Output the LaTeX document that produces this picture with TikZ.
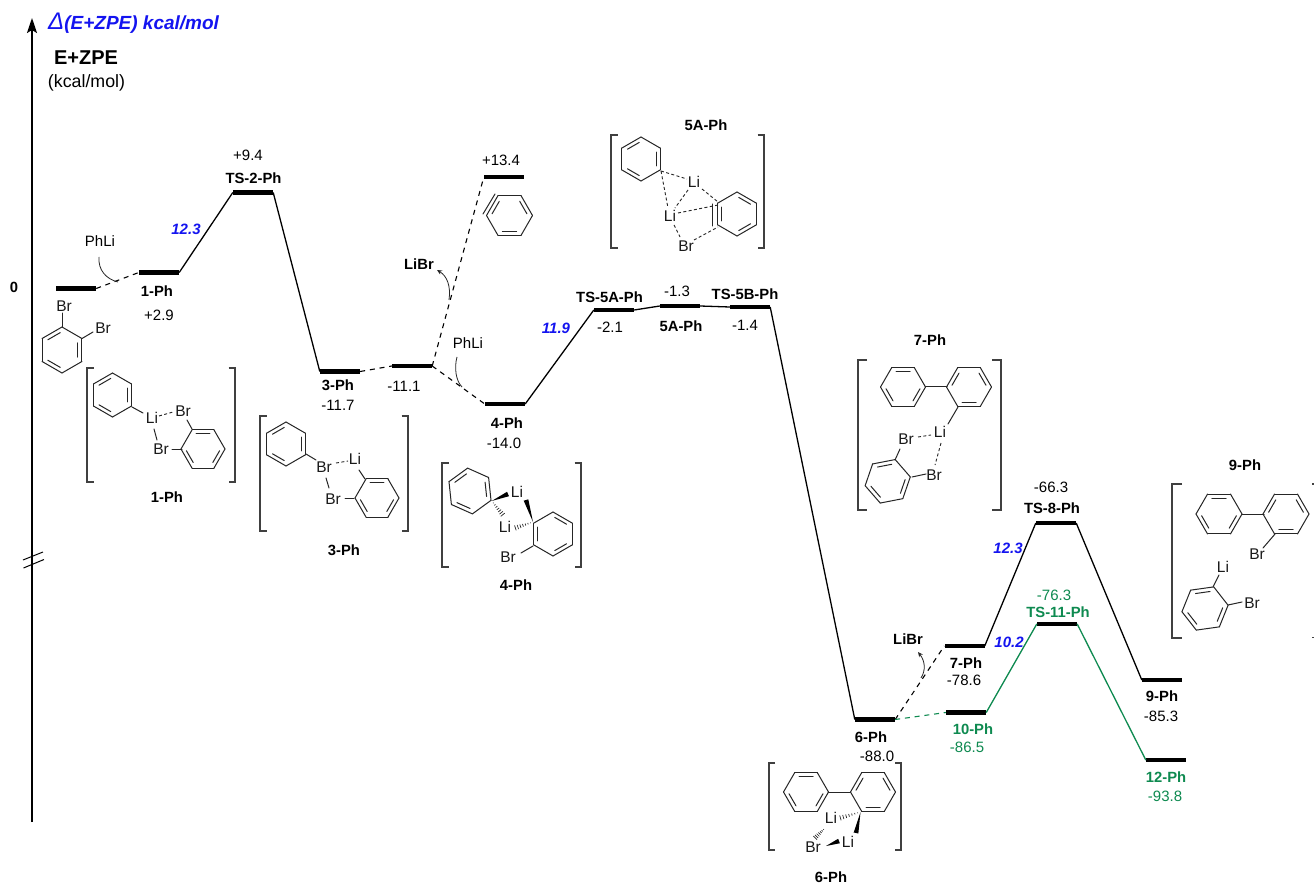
\documentclass[tikz,border=0pt]{standalone}
\usepackage{fontspec}
\setmainfont{Liberation Sans}
\usetikzlibrary{arrows.meta,calc}
\definecolor{tsgreen}{HTML}{0E8A50}
\definecolor{ebblue}{HTML}{1414F0}
\definecolor{brkcol}{HTML}{404040}
\tikzset{
  lev/.style={fill=black,draw=none,inner sep=0pt,minimum width=40pt,minimum height=4.4pt},
  conn/.style={line width=1.3pt,black},
  dconn/.style={line width=1.1pt,black,dash pattern=on 5pt off 4.8pt},
  gconn/.style={line width=1.3pt,tsgreen},
  gdconn/.style={line width=1.1pt,tsgreen,dash pattern=on 5pt off 4.8pt},
  bond/.style={line width=1pt,line cap=round,black!85},
  dbond/.style={line width=0.9pt,black!85,dash pattern=on 3pt off 2.4pt},
  brack/.style={line width=1.1pt,brkcol},
  curv/.style={line width=0.8pt,black!85},
  curva/.style={curv,-{Stealth[length=5pt,width=4.5pt]}},
  val/.style={inner sep=0pt,font=\fontsize{15}{15}\selectfont},
  nameb/.style={inner sep=0pt,font=\fontsize{14.8}{15}\selectfont\bfseries},
  atom/.style={inner sep=0pt,font=\fontsize{15.5}{15}\selectfont,text=black!90},
  barr/.style={inner sep=0pt,font=\fontsize{15}{15}\selectfont\bfseries\itshape,text=ebblue},
  gval/.style={val,text=tsgreen},
  gnameb/.style={nameb,text=tsgreen},
}
\newcommand\lbl[4]{\node[#1] (#2) at (#3) {#4};}
% ring: cx cy r rot(deg, y-down) list of edge start angles for inner lines
\newcommand\ring[5]{%
  \begin{scope}[shift={(#1,#2)}]
    \foreach \a in {0,60,...,300}{
      \draw[bond] ({#3*cos(\a+#4)},{#3*sin(\a+#4)}) -- ({#3*cos(\a+60+#4)},{#3*sin(\a+60+#4)});}
    \foreach \a in {#5}{
      \draw[bond,shorten >=2pt,shorten <=2pt] ({.8*#3*cos(\a)},{.8*#3*sin(\a)}) -- ({.8*#3*cos(\a+60)},{.8*#3*sin(\a+60)});}
  \end{scope}}
% brackets: xleft xright top bottom hook
\newcommand\brk[5]{%
  \draw[brack] (#1+#5,#3) -- (#1,#3) -- (#1,#4) -- (#1+#5,#4);
  \draw[brack] (#2-#5,#3) -- (#2,#3) -- (#2,#4) -- (#2-#5,#4);}
\newcommand\bwed[2]{%
  \fill[black] (#1) -- ($(#2)!2.4pt!90:(#1)$) -- ($(#2)!2.4pt!-90:(#1)$) -- cycle;}
\newcommand\hwed[2]{%
  \foreach \t in {0.14,0.28,...,1.01}{
    \pgfmathsetmacro\w{2.6*\t}
    \draw[line width=0.7pt,black!85] ($($(#1)!\t!(#2)$)!\w pt!90:(#2)$) -- ($($(#1)!\t!(#2)$)!\w pt!-90:(#2)$);}}
\begin{document}
\begin{tikzpicture}[x=1pt,y=-1pt]
\useasboundingbox (0,0) rectangle (1314,885);
\fill[white] (0,0) rectangle (1314,885);

% axis
\coordinate (axb) at (32,822);
\coordinate (axt) at (32,18);
\draw[line width=2pt,-{Stealth[length=15pt,width=10pt,inset=3pt]}] (axb) -- (axt);
\coordinate (s1a) at (23,560); \coordinate (s1b) at (43,552);
\coordinate (s2a) at (23.5,568); \coordinate (s2b) at (44,559.5);
\draw[line width=1pt] (s1a) -- (s1b);
\draw[line width=1pt] (s2a) -- (s2b);

\node[inner sep=0pt,anchor=west,text=ebblue] (ttl) at (48,23) {\fontsize{24}{24}\selectfont\itshape Δ\fontsize{19}{20}\selectfont\bfseries(E+ZPE) kcal/mol};
\node[inner sep=0pt,font=\fontsize{20}{20}\selectfont\bfseries] (ez) at (86,58) {E+ZPE};
\node[inner sep=0pt,font=\fontsize{17.8}{18}\selectfont] (kc) at (86.5,83) {(kcal/mol)};
\lbl{nameb}{zero}{14,287.5}{0}

% levels
\node[lev] (S) at (76,288.5) {};
\node[lev] (L1) at (159,272.5) {};
\node[lev] (TS2) at (253,192.5) {};
\node[lev] (L3) at (340,371.5) {};
\node[lev] (X) at (412,366) {};
\node[lev] (TB) at (504,177) {};
\node[lev] (L4) at (505,404) {};
\node[lev] (TSA) at (614,310) {};
\node[lev] (L5) at (680,306) {};
\node[lev] (TSB) at (750,307) {};
\node[lev] (L6) at (875,719.5) {};
\node[lev] (L7) at (964.5,646) {};
\node[lev] (L10) at (966,712.5) {};
\node[lev] (TS8) at (1056,523) {};
\node[lev] (TS11) at (1057,624) {};
\node[lev] (L9) at (1162,680) {};
\node[lev] (L12) at (1166,760) {};

% connectors
\draw[dconn] (S.east) -- (L1.west);
\draw[conn] (L1.east) -- (TS2.west);
\draw[conn] (TS2.east) -- (L3.west);
\draw[dconn] (L3.east) -- (X.west);
\draw[dconn] (X.east) -- (TB.west);
\draw[dconn] (X.east) -- (L4.west);
\draw[conn] (L4.east) -- (TSA.west);
\draw[conn] (TSA.east) -- (L5.west);
\draw[conn] (L5.east) -- (TSB.west);
\draw[conn] (TSB.east) -- (L6.west);
\draw[dconn] (L6.east) -- (L7.west);
\draw[gdconn] (L6.east) -- (L10.west);
\draw[conn] (L7.east) -- (TS8.west);
\draw[conn] (TS8.east) -- (L9.west);
\draw[gconn] (L10.east) -- (TS11.west);
\draw[gconn] (TS11.east) -- (L12.west);

% curved reagent arrows
\coordinate (c1a) at (99,257); \coordinate (c1b) at (118,282);
\draw[curv] (c1a) .. controls (98,270) and (106,279) .. (c1b);
\coordinate (c2a) at (449,300); \coordinate (c2b) at (437,270);
\draw[curva] (c2a) .. controls (451,286) and (447,276) .. (c2b);
\coordinate (c3a) at (457,357); \coordinate (c3b) at (462,387);
\draw[curv] (c3a) .. controls (454,368) and (456,381) .. (c3b);
\coordinate (c4a) at (921,678); \coordinate (c4b) at (918,652);
\draw[curva] (c4a) .. controls (926,670) and (925,661) .. (c4b);

% energies, names
\lbl{val}{t1}{100,241}{PhLi}
\lbl{barr}{b1}{186,229}{12.3}
\lbl{val}{t2}{248,155}{+9.4}
\lbl{nameb}{t3}{253.5,178}{TS-2-Ph}
\lbl{nameb}{t4}{157,291.5}{1-Ph}
\lbl{val}{t5}{159,315}{+2.9}
\lbl{nameb}{t6}{338,385.5}{3-Ph}
\lbl{val}{t7}{338,405}{-11.7}
\lbl{val}{t8}{404,386}{-11.1}
\lbl{val}{t9}{501,160}{+13.4}
\lbl{nameb}{t10}{419,264}{LiBr}
\lbl{val}{t11}{468,343}{PhLi}
\lbl{nameb}{t12}{507,423}{4-Ph}
\lbl{val}{t13}{504,443}{-14.0}
\lbl{barr}{b2}{556,328}{11.9}
\lbl{nameb}{t14}{609.5,297}{TS-5A-Ph}
\lbl{val}{t15}{610,327}{-2.1}
\lbl{val}{t16}{677,291}{-1.3}
\lbl{nameb}{t17}{681,326}{5A-Ph}
\lbl{nameb}{t18}{745,294}{TS-5B-Ph}
\lbl{val}{t19}{745,325}{-1.4}
\lbl{nameb}{t20}{871,737}{6-Ph}
\lbl{val}{t21}{877,756}{-88.0}
\lbl{nameb}{t22}{908,639}{LiBr}
\lbl{nameb}{t23}{966,663}{7-Ph}
\lbl{val}{t24}{964,680.5}{-78.6}
\lbl{gnameb}{t25}{973,729}{10-Ph}
\lbl{gval}{t26}{967,747}{-86.5}
\lbl{barr}{b3}{1009,642}{10.2}
\lbl{val}{t27}{1051,487}{-66.3}
\lbl{nameb}{t28}{1052,508}{TS-8-Ph}
\lbl{barr}{b4}{1008,548}{12.3}
\lbl{gval}{t29}{1054,595}{-76.3}
\lbl{gnameb}{t30}{1058,612}{TS-11-Ph}
\lbl{nameb}{t31}{1162,696}{9-Ph}
\lbl{val}{t32}{1161,716}{-85.3}
\lbl{gnameb}{t33}{1166,777}{12-Ph}
\lbl{gval}{t34}{1165,796}{-93.8}
% complex captions
\lbl{nameb}{c1}{167,497}{1-Ph}
\lbl{nameb}{c3}{344,550}{3-Ph}
\lbl{nameb}{c4}{516,585}{4-Ph}
\lbl{nameb}{c5}{706,125}{5A-Ph}
\lbl{nameb}{c7}{930,340}{7-Ph}
\lbl{nameb}{c6}{831,877.5}{6-Ph}
\lbl{nameb}{c9}{1245,465}{9-Ph}

% dibromobenzene
\ring{62}{350}{23}{30}{330,210,90}
\draw[bond] (62,327) -- (62,313);
\draw[bond] (82,338.5) -- (93,332);
\lbl{atom}{a1}{64,306}{Br}
\lbl{atom}{a2}{103,328}{Br}

% benzyne
\ring{509.5}{215.5}{23}{0}{180,300,60}
\draw[bond] (483,214) -- (495,194);

% complex 1-Ph
\brk{87}{235}{368}{482}{6.5}
\ring{112.5}{395}{22}{30}{330,210,90}
\draw[bond] (132,407) -- (143,413);
\lbl{atom}{a3}{152,418}{Li}
\lbl{atom}{a4}{183,411}{Br}
\draw[dbond] (159,416) -- (173,412);
\draw[bond] (154,429) -- (157,440);
\lbl{atom}{a5}{161,449}{Br}
\ring{203}{449}{22}{0}{240,0,120}
\draw[bond] (172,449) -- (182,449);
\draw[bond] (192,429) -- (187,420);

% complex 3-Ph
\brk{260}{408}{416}{531}{6.5}
\ring{286}{444}{22}{30}{330,210,90}
\draw[bond] (306,454) -- (316,460);
\lbl{atom}{a6}{324,467}{Br}
\lbl{atom}{a7}{355,459}{Li}
\draw[dbond] (336,463) -- (348,461);
\draw[bond] (326,478) -- (329,488);
\lbl{atom}{a8}{333,499}{Br}
\draw[bond] (345,498) -- (354,498);
\ring{377}{498}{22}{0}{240,0,120}
\draw[bond] (359,470) -- (365,479);

% complex 4-Ph
\brk{442}{581}{463}{567}{6.5}
\ring{470}{491}{23}{24}{204,324,84}
\coordinate (v4a) at (491.7,501);
\coordinate (w4a) at (508,494);
\coordinate (h4a) at (503,515);
\bwed{v4a}{w4a}
\hwed{v4a}{h4a}
\lbl{atom}{a9}{517,492}{Li}
\lbl{atom}{a10}{505,527}{Li}
\ring{553}{534}{22}{30}{150,270,30}
\coordinate (v4b) at (533,522);
\coordinate (w4b) at (526,500);
\coordinate (h4b) at (515,528);
\bwed{v4b}{w4b}
\hwed{v4b}{h4b}
\lbl{atom}{a11}{508,557}{Br}
\draw[bond] (533,546) -- (521,553);

% complex 5A-Ph
\brk{611}{764}{135}{248}{6.5}
\ring{641}{159}{22}{30}{330,210,90}
\lbl{atom}{a12}{694,182}{Li}
\lbl{atom}{a13}{670,216}{Li}
\lbl{atom}{a14}{686,246}{Br}
\ring{737}{214}{22}{30}{150,270,30}
\draw[bond] (712,204) -- (712,226);
\draw[dbond] (661,171) -- (687,179);
\draw[dbond] (661,171) -- (668,208);
\draw[dbond] (688,190) -- (675,208);
\draw[dbond] (702,189) -- (718,202);
\draw[dbond] (678,213) -- (718,205);
\draw[dbond] (674,225) -- (680,237);
\draw[dbond] (694,240) -- (718,227);

% complex 7-Ph
\brk{858}{1001}{360}{510}{9}
\ring{903}{387}{22.5}{0}{240,0,120}
\ring{969}{387}{22.5}{0}{180,300,60}
\draw[bond] (925,386.7) -- (947,386.7);
\lbl{atom}{a15}{940,432}{Li}
\draw[bond] (958,407) -- (948,424);
\lbl{atom}{a16}{906,439}{Br}
\draw[dbond] (918,437) -- (931,435);
\lbl{atom}{a17}{934,475}{Br}
\draw[dbond] (941,443) -- (935,465);
\ring{887.7}{481.3}{23}{49}{229,349,109}
\draw[bond] (895,460) -- (900,449);
\draw[bond] (912,477) -- (926,474);

% complex 6-Ph
\brk{769}{901}{763}{850}{6}
\ring{806}{792}{22.5}{0}{240,0,120}
\ring{873}{792}{22.5}{0}{180,300,60}
\draw[bond] (828,792) -- (850,792);
\lbl{atom}{a18}{831,818}{Li}
\lbl{atom}{a19}{848,842}{Li}
\lbl{atom}{a20}{813,847}{Br}
\coordinate (v6) at (860.5,812);
\coordinate (w6) at (856,833);
\coordinate (h6) at (840,818);
\coordinate (v6b) at (826,846);
\coordinate (w6b) at (839,841);
\coordinate (v6c) at (825,828);
\coordinate (h6c) at (815,838);
\bwed{v6}{w6}
\hwed{v6}{h6}
\bwed{v6b}{w6b}
\hwed{v6c}{h6c}

% complex 9-Ph (cut off at the right border)
\draw[brack] (1182,484) -- (1172,484) -- (1172,638) -- (1182,638);
\draw[brack] (1312,484) -- (1314,484);
\draw[brack] (1312,637.5) -- (1314,637.5);
\ring{1219}{514}{23}{0}{240,0,120}
\ring{1286}{514}{23}{0}{180,300,60}
\draw[bond] (1242,514.3) -- (1264,514.3);
\lbl{atom}{a21}{1257,554}{Br}
\draw[bond] (1275,534) -- (1263,548);
\lbl{atom}{a22}{1223,567}{Li}
\ring{1205}{608.5}{23.3}{52}{232,352,112}
\draw[bond] (1213,587) -- (1219,575);
\draw[bond] (1228,605) -- (1242,602);
\lbl{atom}{a23}{1252,603}{Br}
\end{tikzpicture}
\end{document}
